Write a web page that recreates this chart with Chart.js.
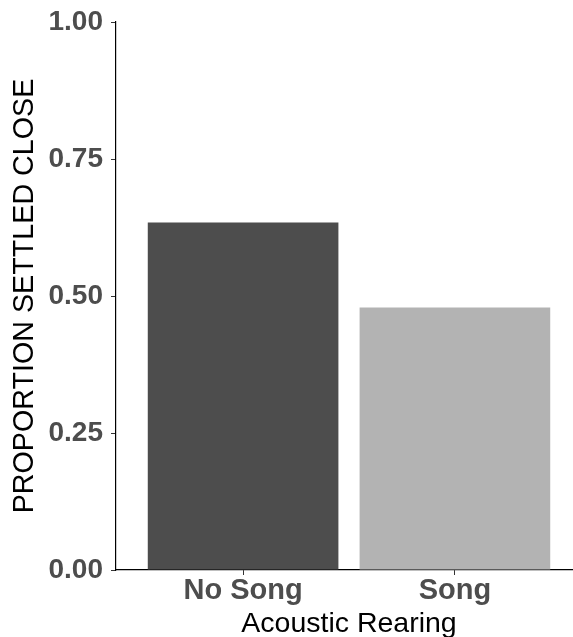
<!DOCTYPE html>
<html>
<head>
<meta charset="utf-8">
<title>Proportion settled close by acoustic rearing</title>
<script src="https://cdn.jsdelivr.net/npm/chart.js@4/dist/chart.umd.min.js"></script>
<style>
  html, body { margin: 0; padding: 0; overflow: hidden; background: #ffffff; }
  #wrap { width: 573px; height: 637px; overflow: hidden; }
  canvas { display: block; }
</style>
</head>
<body>
<div id="wrap"><canvas id="chart" width="582" height="637"></canvas></div>
<script>
// Rearing treatments and the share of fish that settled close
const categories = ['No Song', 'Song'];
const proportions = [0.634, 0.479];
const barColors = ['#4D4D4D', '#B3B3B3'];
const yTicks = [0, 0.25, 0.5, 0.75, 1];

const FONT = '"Liberation Sans", Arial, Helvetica, sans-serif';

const points = categories.map((c, i) => ({ x: i, y: proportions[i] }));

new Chart(document.getElementById('chart'), {
  type: 'bar',
  data: {
    datasets: [{
      data: points,
      backgroundColor: barColors,
      borderWidth: 0,
      barPercentage: 0.9,
      categoryPercentage: 1.0
    }]
  },
  options: {
    responsive: false,
    animation: false,
    events: [],
    devicePixelRatio: 1,
    layout: { padding: { top: 21, right: 0, bottom: 0, left: 0 } },
    plugins: { legend: { display: false }, tooltip: { enabled: false } },
    scales: {
      x: {
        type: 'linear',
        min: -0.6,
        max: 1.6,
        offset: false,
        afterBuildTicks: (scale) => { scale.ticks = categories.map((c, i) => ({ value: i })); },
        afterFit: (scale) => { scale.height = 67; },
        grid: { offset: false, drawOnChartArea: false, drawTicks: true, tickLength: 5, tickColor: '#333333', tickWidth: 1 },
        border: { display: true, color: '#000000', width: 1.2 },
        ticks: {
          autoSkip: false,
          maxRotation: 0,
          padding: 1,
          color: '#4D4D4D',
          font: { family: FONT, size: 29, weight: 'bold', lineHeight: 1 },
          callback: (v) => (categories[v] !== undefined ? categories[v] : '')
        },
        title: {
          display: true,
          text: 'Acoustic Rearing',
          color: '#000000',
          padding: { top: 0, bottom: 0 },
          font: { family: FONT, size: 28.5, weight: 'normal', lineHeight: 0.93 }
        }
      },
      y: {
        min: 0,
        max: 1,
        afterBuildTicks: (scale) => { scale.ticks = yTicks.map(v => ({ value: v })); },
        afterFit: (scale) => { scale.width = 116; },
        grid: { drawOnChartArea: false, drawTicks: true, tickLength: 5, tickColor: '#333333', tickWidth: 1 },
        border: { display: true, color: '#000000', width: 1.2 },
        ticks: {
          padding: 8,
          color: '#4D4D4D',
          font: { family: FONT, size: 28, weight: 'bold', lineHeight: 1 },
          callback: (v) => Number(v).toFixed(2)
        },
        title: {
          display: true,
          text: 'PROPORTION SETTLED CLOSE',
          color: '#000000',
          padding: { top: 11, bottom: 0 },
          font: { family: FONT, size: 28.7, weight: 'normal', lineHeight: 1 }
        }
      }
    }
  }
});
</script>
</body>
</html>
